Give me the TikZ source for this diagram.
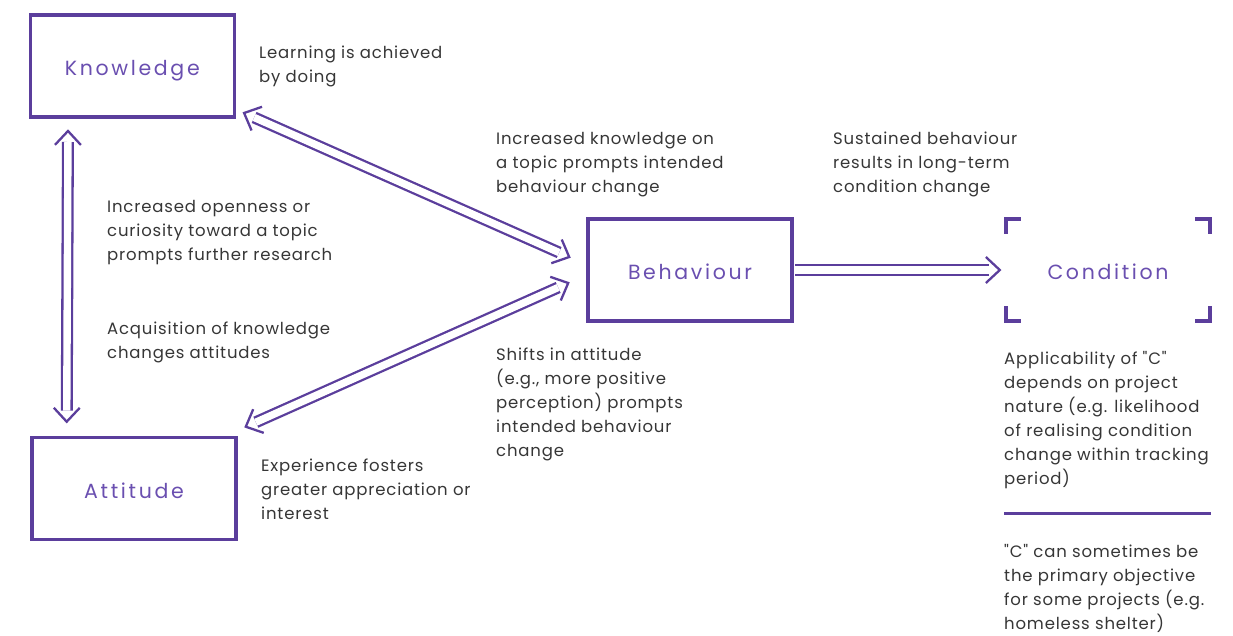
\documentclass[tikz,border=0pt]{standalone}
\usepackage{fontspec}
\setmainfont{Poppins}[Ligatures=TeXOff]
\usetikzlibrary{calc}
\definecolor{pur}{HTML}{5B3E9C}
\definecolor{purtxt}{HTML}{6A4FB0}
\definecolor{txt}{HTML}{363636}
\newcommand\chevron[2]{\draw[chevst] ($(#1)!19pt!43:(#2)$) -- (#1) -- ($(#1)!19pt!-43:(#2)$);}
\newcommand\qq{\symbol{34}}
\begin{document}
\begin{tikzpicture}[x=1pt,y=-1pt,
  box/.style={draw=pur, line width=3.6pt, minimum width=204pt, minimum height=102pt, inner sep=0,
    font=\fontsize{20.5}{24}\selectfont\addfontfeature{LetterSpace=13}, text=purtxt, text height=19pt, text depth=0pt},
  ghost/.style={minimum width=204pt, minimum height=102pt, inner sep=0,
    font=\fontsize{20.5}{24}\selectfont\addfontfeature{LetterSpace=13}, text=purtxt, text height=19pt, text depth=0pt},
  lbl/.style={font=\fontsize{16.5}{24}\selectfont\addfontfeature{LetterSpace=5}, text=txt, align=left, anchor=base west, inner sep=0},
  dbl/.style={draw=pur, double=white, line width=2.3pt, double distance=7.4pt},
  chevst/.style={draw=pur, line width=2.3pt, line cap=butt, line join=miter},
  corner/.style={draw=pur, line width=3.6pt, line cap=butt, line join=miter}]
\useasboundingbox (0,0) rectangle (1233,635);

\node[box] (kn) at (132.3,66.2) {Knowledge};
\node[box] (at) at (134,488.5) {Attitude};
\node[box] (beh) at (690,270) {Behaviour};
\node[ghost] (cond) at (1108,270) {Condition};

% condition corner brackets
\draw[corner] ($(cond.north west)+(0,15)$) -- (cond.north west) -- ($(cond.north west)+(15,0)$);
\draw[corner] ($(cond.north east)+(0,15)$) -- (cond.north east) -- ($(cond.north east)+(-15,0)$);
\draw[corner] ($(cond.south west)+(0,-15)$) -- (cond.south west) -- ($(cond.south west)+(15,0)$);
\draw[corner] ($(cond.south east)+(0,-15)$) -- (cond.south east) -- ($(cond.south east)+(-15,0)$);

% arrow end points
\coordinate (v1) at ($(kn.south west)+(39.5,12)$);
\coordinate (v2) at ($(at.north west)+(36.5,-14)$);
\coordinate (d1a) at ($(kn.south east)+(8,-6)$);
\coordinate (d1b) at ($(beh.west)+(-17,-13)$);
\coordinate (d2a) at ($(at.north east)+(8,-9)$);
\coordinate (d2b) at ($(beh.west)+(-18,13)$);
\coordinate (h1) at ($(beh.east)+(1,0)$);
\coordinate (h2) at ($(cond.west)+(-6,0)$);

\draw[dbl, shorten <=11pt, shorten >=11pt] (v1) -- (v2);
\chevron{v1}{v2}\chevron{v2}{v1}
\draw[dbl, shorten <=11pt, shorten >=11pt] (d1a) -- (d1b);
\chevron{d1a}{d1b}\chevron{d1b}{d1a}
\draw[dbl, shorten <=11pt, shorten >=11pt] (d2a) -- (d2b);
\chevron{d2a}{d2b}\chevron{d2b}{d2a}
\draw[dbl, shorten >=11pt] (h1) -- (h2);
\chevron{h2}{h1}

% texts (anchored at the baseline of the last line)
\node[lbl] (t1) at (259,82) {Learning is achieved\\by doing};
\node[lbl] (t2) at (496,192) {Increased knowledge on\\a topic prompts intended\\behaviour change};
\node[lbl] (t3) at (833,192) {Sustained behaviour\\results in long-term\\condition change};
\node[lbl] (t4) at (107,260) {Increased openness or\\curiosity toward a topic\\prompts further research};
\node[lbl] (t5) at (107,358) {Acquisition of knowledge\\changes attitudes};
\node[lbl] (t6) at (496,456) {Shifts in attitude\\(e.g., more positive\\perception) prompts\\intended behaviour\\change};
\node[lbl] (t7) at (261,519) {Experience fosters\\greater appreciation or\\interest};
\node[lbl] (t8) at (1004,484) {Applicability of \qq C\qq\\depends on project\\nature (e.g. likelihood\\of realising condition\\change within tracking\\period)};
\coordinate (s1) at (1004,513);
\coordinate (s2) at (1211,513);
\draw[draw=pur, line width=3pt] (s1) -- (s2);
\node[lbl] (t9) at (1004,629) {\qq C\qq{} can sometimes be\\the primary objective\\for some projects (e.g.\\homeless shelter)};
\end{tikzpicture}
\end{document}
